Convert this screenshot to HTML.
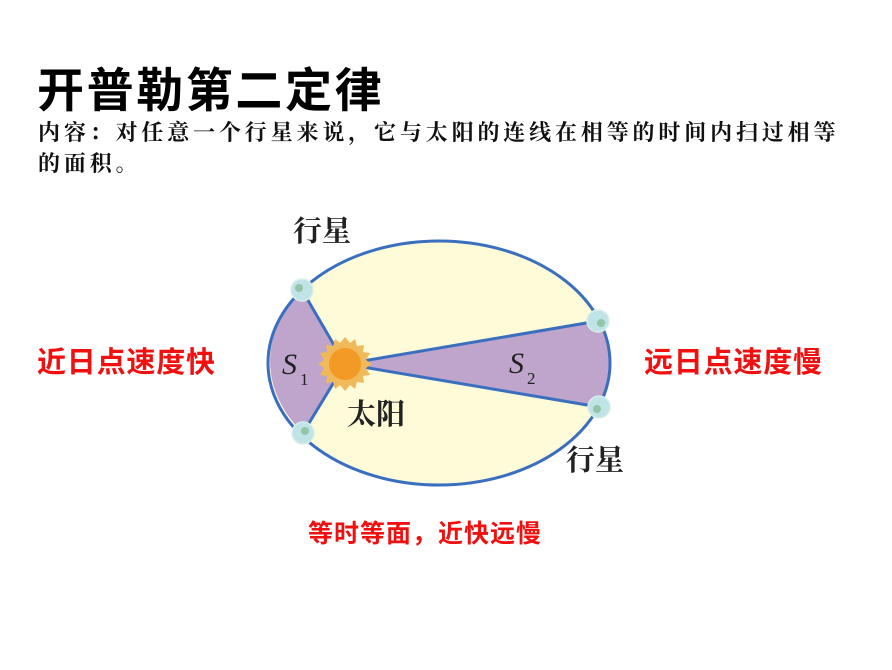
<!DOCTYPE html>
<html><head><meta charset="utf-8"><style>
body{margin:0;width:892px;height:670px;background:#fff;position:relative;overflow:hidden}
.t{position:absolute;white-space:nowrap}
</style></head><body>
<div class="t" style="left:37px;top:52px;font:bold 47px 'Liberation Sans','Noto Sans CJK SC',sans-serif;letter-spacing:2.6px;color:#000">开普勒第二定律</div>
<div class="t" style="left:38px;top:117px;font:bold 22px 'Liberation Serif','Noto Serif CJK SC',serif;letter-spacing:3.85px;color:#111;line-height:31px">内容：对任意一个行星来说，它与太阳的连线在相等的时间内扫过相等<br>的面积。</div>
<div class="t" style="left:37px;top:339px;font:bold 29px 'Liberation Sans','Noto Sans CJK SC',sans-serif;color:#f01010;letter-spacing:0.8px">近日点速度快</div>
<div class="t" style="left:644px;top:339px;font:bold 29px 'Liberation Sans','Noto Sans CJK SC',sans-serif;color:#f01010;letter-spacing:0.8px">远日点速度慢</div>
<div class="t" style="left:308px;top:514px;font:bold 25px 'Liberation Sans','Noto Sans CJK SC',sans-serif;color:#f01010;letter-spacing:1px">等时等面，近快远慢</div>
<svg width="892" height="670" style="position:absolute;left:0;top:0">
<ellipse cx="439" cy="363" rx="171" ry="122" fill="#fefbd8"/>
<path d="M345 364 L302 290 A171 122 0 0 0 303 433 Z" fill="#bfa4cc"/>
<path d="M345 364 L598 321 A171 122 0 0 1 599 407 Z" fill="#bfa4cc"/>
<path d="M302 290 L345 364 L303 433 M598 321 L345 364 L599 407" fill="none" stroke="#3a6fbf" stroke-width="3"/>
<ellipse cx="439" cy="363" rx="171" ry="122" fill="none" stroke="#3a6fbf" stroke-width="3"/>
<polygon fill="#f0b95a" points="
372,364 366,368 370,375 363,376 364,383 357,382 355,389 350,385 345,391 340,385 335,389 333,382 326,383 327,376 320,375 324,368 318,364 324,360 320,353 327,352 326,345 333,346 335,339 340,343 345,337 350,343 355,339 357,346 364,345 363,352 370,353 366,360"/>
<circle cx="345" cy="364" r="16" fill="#f39a26"/>
<g fill="#bfe3e6" stroke="#d8eee8" stroke-width="1.5">
<circle cx="302" cy="290" r="11"/><circle cx="598" cy="321" r="11"/><circle cx="599" cy="407" r="11"/><circle cx="303" cy="433" r="11"/></g>
<g fill="#7fb98a" opacity=".7"><circle cx="299" cy="288" r="4"/><circle cx="601" cy="323" r="4"/><circle cx="597" cy="409" r="4"/><circle cx="305" cy="431" r="4"/></g>
<g font-family="'Liberation Serif',serif" font-style="italic" font-size="30" fill="#222">
<text x="282" y="374">S</text><text x="300" y="385" font-size="17" font-style="normal">1</text>
<text x="509" y="373">S</text><text x="527" y="384" font-size="17" font-style="normal">2</text></g>
<g font-family="'Noto Serif CJK SC',serif" font-size="29" font-weight="bold" fill="#222">
<text x="293" y="241">行星</text><text x="347" y="424">太阳</text><text x="566" y="470">行星</text></g>
</svg>
</body></html>
